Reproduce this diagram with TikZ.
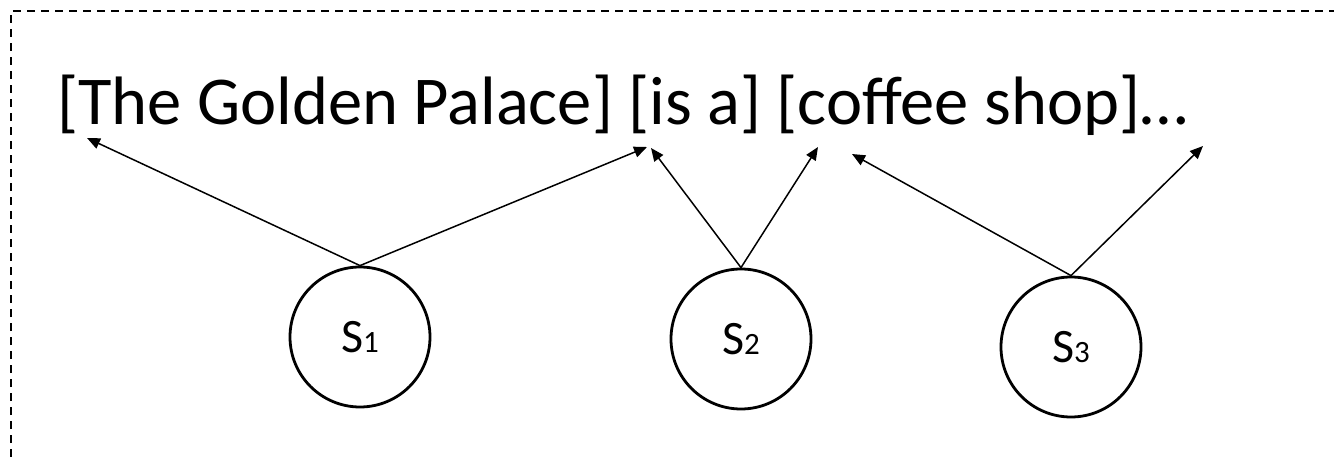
\documentclass[tikz,border=0pt]{standalone}
\usepackage{fontspec}
\setmainfont{Carlito}
\usetikzlibrary{arrows.meta}
\begin{document}
\begin{tikzpicture}[x=1pt,y=-1pt,
  state/.style={circle,draw,line width=2.8pt,minimum size=140pt,inner sep=0pt,
    font=\fontsize{48}{56}\selectfont},
  link/.style={line width=1.5pt,-{Triangle[length=13pt,width=11pt]}},
  frame/.style={line width=2.5pt,dash pattern=on 8pt off 6pt}]
\useasboundingbox (0,0) rectangle (1334,457);
% dashed frame, open to the right and bottom
\draw[frame] (11,457) -- (11,11) -- (1334,11);
% the sentence with its segments
\node[anchor=base west,inner sep=0pt,font=\fontsize{68.5}{82}\selectfont] (sent) at (57,125)
  {[The Golden Palace] [is a] [coffee shop]…};
% segment states
\newcommand{\lowdigit}[1]{{\fontsize{31}{36}\selectfont #1}}
\node[state] (s1) at (360,337) {S\lowdigit{1}};
\node[state] (s2) at (741,339) {S\lowdigit{2}};
\node[state] (s3) at (1071,347) {S\lowdigit{3}};
% arrow targets under the brackets
\coordinate (t1a) at (87,138);
\coordinate (t1b) at (647,147);
\coordinate (t2a) at (651,148);
\coordinate (t2b) at (818,147);
\coordinate (t3a) at (852,154);
\coordinate (t3b) at (1203,146);
\draw[link] (s1.north) -- (t1a);
\draw[link] (s1.north) -- (t1b);
\draw[link] (s2.north) -- (t2a);
\draw[link] (s2.north) -- (t2b);
\draw[link] (s3.north) -- (t3a);
\draw[link] (s3.north) -- (t3b);
\end{tikzpicture}
\end{document}
